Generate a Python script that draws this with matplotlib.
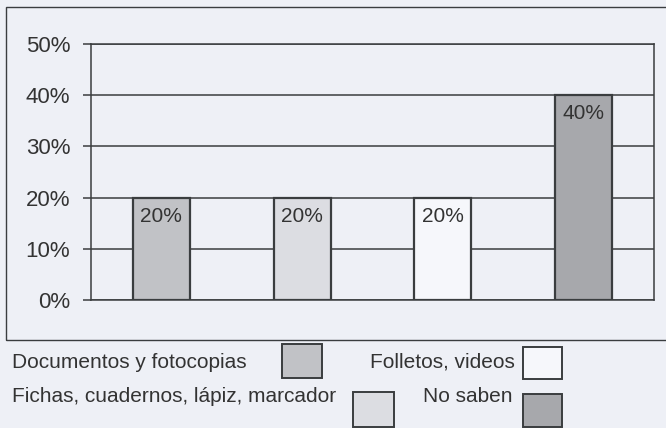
import matplotlib.pyplot as plt
from matplotlib.patches import Rectangle

plt.rcParams['font.family'] = ['Liberation Sans', 'DejaVu Sans']

categorias = ["Documentos y fotocopias", "Fichas, cuadernos, lápiz, marcador",
              "Folletos, videos", "No saben"]
valores = [20, 20, 20, 40]
colores = ['#c1c2c6', '#dcdde2', '#f6f7fb', '#a7a8ac']
yticks = [0, 10, 20, 30, 40, 50]
fondo = '#eef0f6'
linea = '#3a3d3f'

fig = plt.figure(figsize=(6.66, 4.28), dpi=100)
fig.patch.set_facecolor(fondo)

# marco exterior del grafico
fig.add_artist(Rectangle((6 / 666, 1 - 340 / 428), 1.0, 333 / 428,
                         transform=fig.transFigure, fill=False,
                         edgecolor=linea, linewidth=1.0))

ax = fig.add_axes([91 / 666, 1 - 300 / 428, 563 / 666, 256 / 428])
ax.set_facecolor(fondo)
x = range(len(valores))
ax.bar(x, valores, width=0.405, color=colores, edgecolor=linea,
       linewidth=1.6, zorder=3)
for xi, v in zip(x, valores):
    ax.text(xi, v - 3.6, f"{v}%", ha='center', va='center', fontsize=15,
            color='#333333', zorder=4)

ax.set_xlim(-0.5, 3.5)
ax.set_ylim(0, 50)
ax.set_yticks(yticks)
ax.set_yticklabels([f"{t}%" for t in yticks], fontsize=16, color='#333333')
ax.set_xticks([])
ax.yaxis.grid(True, color=linea, linewidth=1.1, zorder=1)
ax.tick_params(axis='y', length=6, width=1.1, color=linea, pad=9)
for s in ax.spines.values():
    s.set_color(linea)
    s.set_linewidth(1.1)

# leyenda manual
def caja(x0, y0, x1, y1, c):
    fig.add_artist(Rectangle((x0 / 666, 1 - y1 / 428), (x1 - x0) / 666,
                             (y1 - y0) / 428, transform=fig.transFigure,
                             facecolor=c, edgecolor=linea, linewidth=1.4))

def texto(xp, yp, s):
    fig.text(xp / 666, 1 - yp / 428, s, fontsize=15, color='#333333',
             ha='left', va='baseline')

texto(12, 368, categorias[0])
caja(282, 344, 322, 378, colores[0])
texto(370, 368, categorias[2])
caja(523, 347, 562, 379, colores[2])
texto(12, 402, categorias[1])
caja(353, 392, 394, 427, colores[1])
texto(423, 402, categorias[3])
caja(523, 394, 562, 427, colores[3])

fig.savefig('out.png', dpi=100, facecolor=fondo)
